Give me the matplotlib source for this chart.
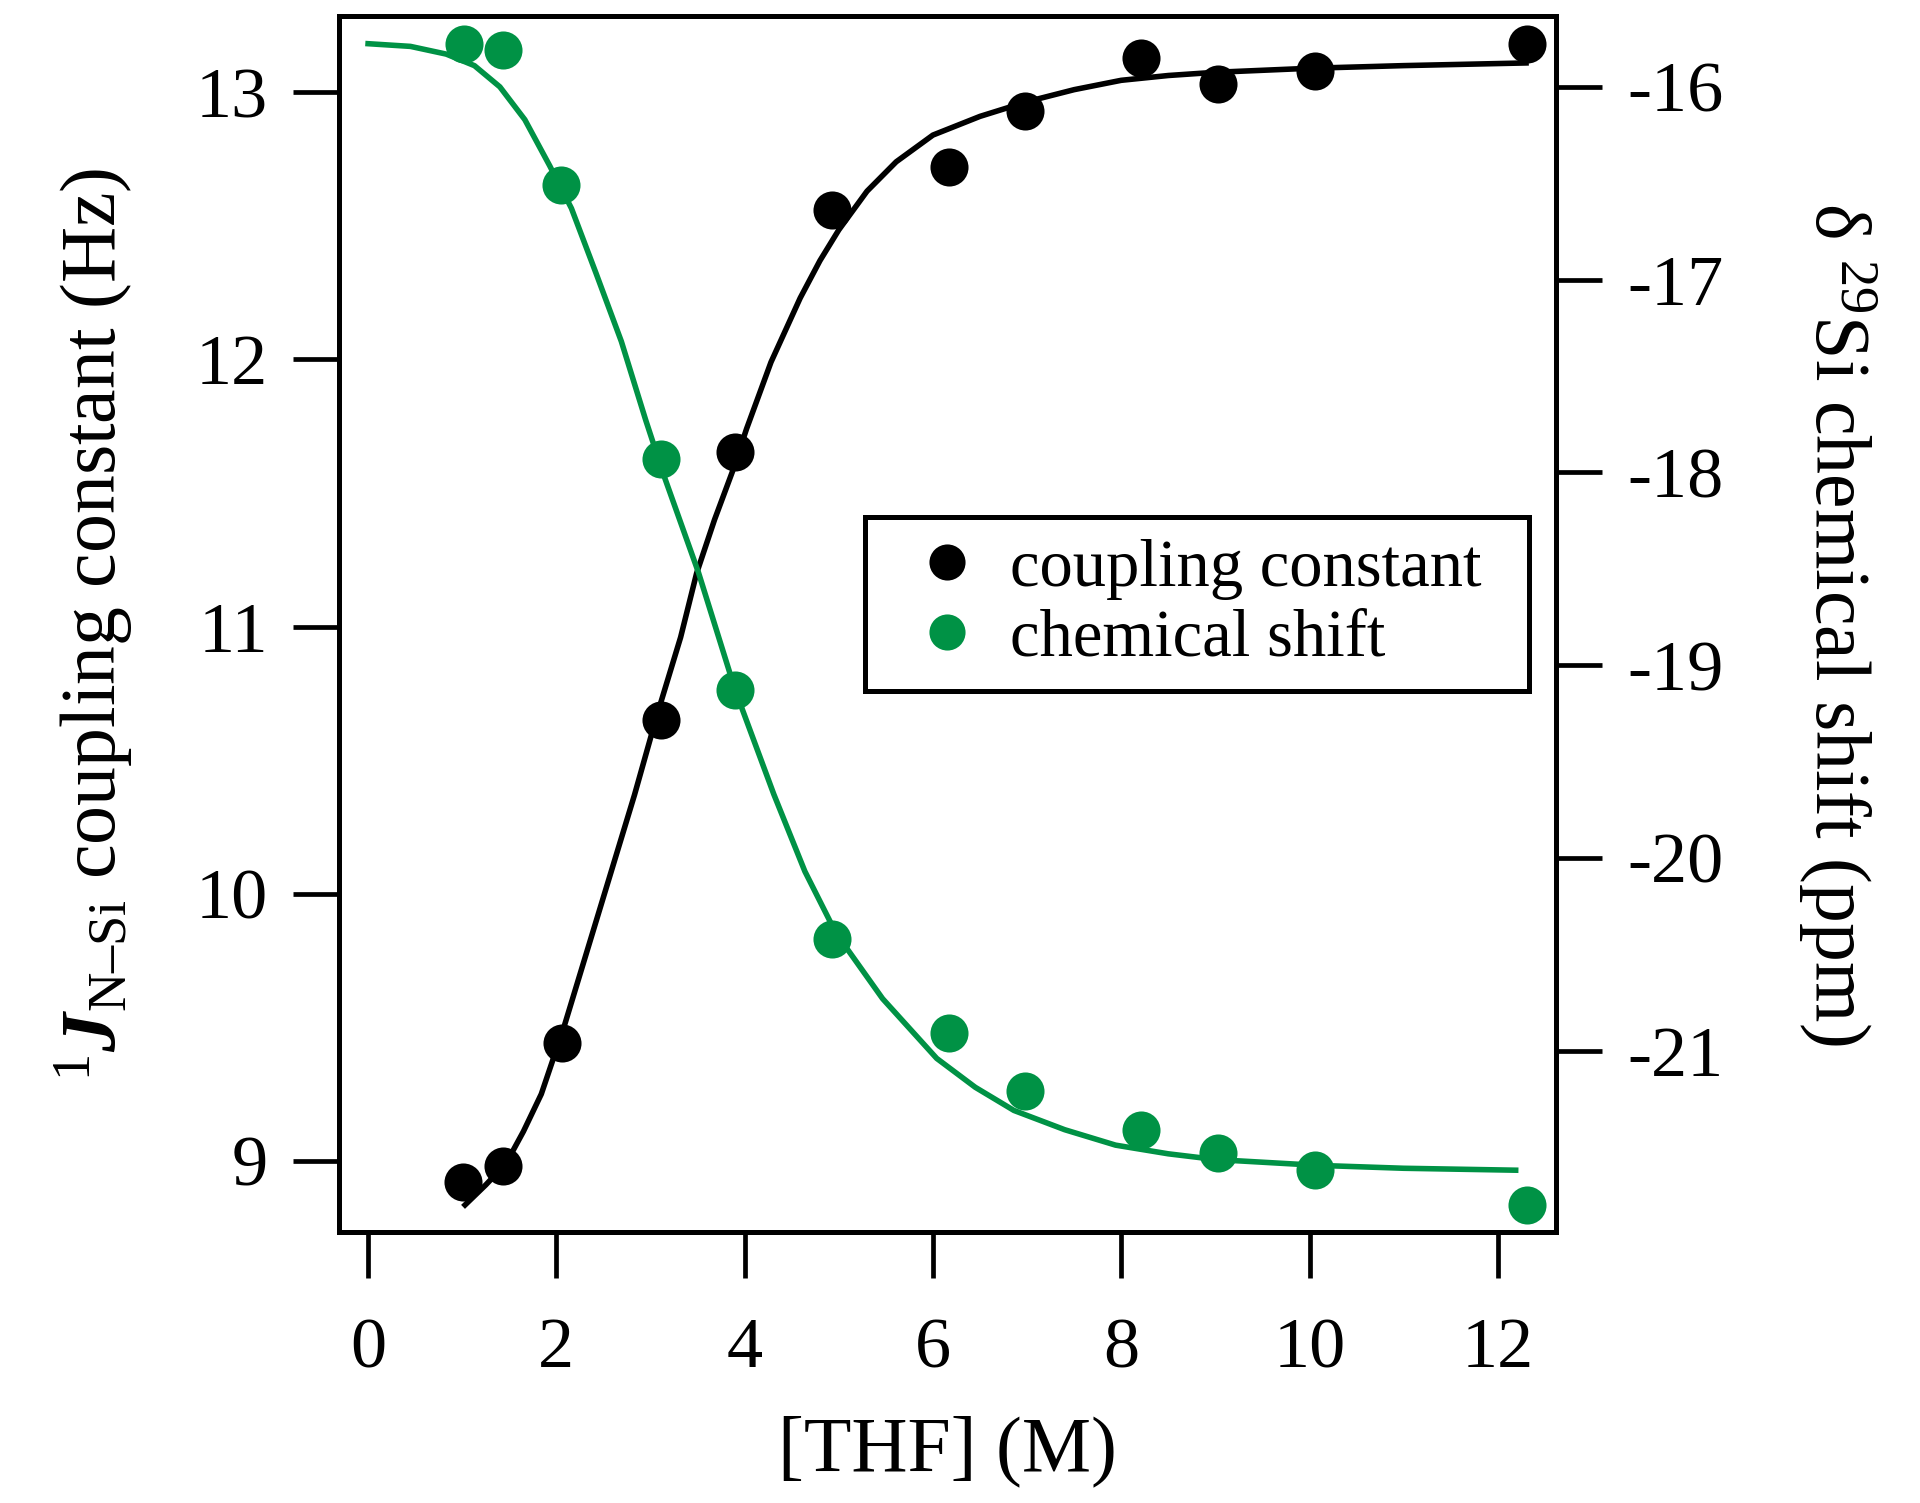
"""THF titration: 1J(N-Si) coupling constant and 29Si chemical shift vs [THF].

Twin y-axes, black = coupling constant (left), green = chemical shift (right),
with the fitted curves drawn as lines through the data.
"""
import matplotlib
matplotlib.use('Agg')
import matplotlib.pyplot as plt
from matplotlib.lines import Line2D

GREEN = '#009245'

# measured points
THF = [1.01, 1.43, 2.06, 3.11, 3.90, 4.93, 6.17, 6.98, 8.21, 9.03, 10.06, 12.31]
J_NSI = [8.92, 8.98, 9.44, 10.65, 11.655, 12.56, 12.72, 12.93, 13.13, 13.03, 13.08, 13.18]
SHIFT_THF = [1.02, 1.43, 2.05, 3.11, 3.90, 4.93, 6.17, 6.98, 8.21, 9.03, 10.06, 12.31]
SHIFT = [-15.78, -15.81, -16.51, -17.93, -19.13, -20.42, -20.91, -21.21,
         -21.41, -21.53, -21.62, -21.80]

# fitted curves
J_FIT_X = [1.03, 1.25, 1.465, 1.65, 1.84, 2.08, 2.33, 2.58, 2.83, 3.07, 3.32,
           3.49, 3.68, 3.87, 4.02, 4.28, 4.59, 4.8, 5.0, 5.3, 5.61, 6.0, 6.5,
           7.0, 7.5, 8.0, 8.5, 9.0, 10.0, 11.0, 12.3]
J_FIT_Y = [8.835, 8.91, 8.99, 9.11, 9.25, 9.50, 9.79, 10.08, 10.37, 10.67,
           10.96, 11.20, 11.40, 11.58, 11.74, 11.99, 12.23, 12.37, 12.485,
           12.63, 12.74, 12.84, 12.91, 12.965, 13.01, 13.045, 13.063, 13.075,
           13.09, 13.10, 13.11]
SHIFT_FIT_X = [0.0, 0.45, 0.83, 1.13, 1.40, 1.665, 1.93, 2.16, 2.42, 2.69,
               2.95, 3.145, 3.51, 3.90, 4.31, 4.64, 4.97, 5.465, 6.04, 6.45,
               6.86, 7.4, 7.94, 8.5, 9.01, 10.09, 11.0, 12.19]
SHIFT_FIT_Y = [-15.776, -15.79, -15.83, -15.89, -16.00, -16.17, -16.41, -16.63,
               -16.965, -17.32, -17.73, -18.02, -18.52, -19.13, -19.67, -20.07,
               -20.39, -20.73, -21.04, -21.19, -21.31, -21.41, -21.49, -21.535,
               -21.565, -21.595, -21.61, -21.62]

X_TICKS = [0, 2, 4, 6, 8, 10, 12]
J_TICKS = [9, 10, 11, 12, 13]
SHIFT_TICKS = [-21, -20, -19, -18, -17, -16]


def style_axis(ax):
    for side in ('left', 'right', 'top', 'bottom'):
        ax.spines[side].set_linewidth(1.8)
    ax.tick_params(direction='out', length=16.5, width=1.7, labelsize=26, pad=9)


def main():
    plt.rcParams['font.family'] = ['Liberation Serif', 'DejaVu Serif']
    plt.rcParams['mathtext.fontset'] = 'custom'
    plt.rcParams['mathtext.rm'] = 'Liberation Serif'
    plt.rcParams['mathtext.it'] = 'Liberation Serif:italic'
    plt.rcParams['mathtext.bf'] = 'Liberation Serif:bold'
    plt.rcParams['mathtext.bfit'] = 'Liberation Serif:italic:bold'
    plt.rcParams['axes.unicode_minus'] = False

    fig = plt.figure(figsize=(9.6, 7.515), dpi=200)
    ax = fig.add_axes([0.1766, 0.1800, 0.6339, 0.8094])
    ax2 = ax.twinx()

    ax.plot(J_FIT_X, J_FIT_Y, color='black', lw=2.0, zorder=2,
            solid_joinstyle='round')
    ax.plot(THF, J_NSI, 'o', color='black', ms=13.7, mew=0, zorder=3)
    ax2.plot(SHIFT_FIT_X, SHIFT_FIT_Y, color=GREEN, lw=2.0, zorder=2,
             solid_joinstyle='round')
    ax2.plot(SHIFT_THF, SHIFT, 'o', color=GREEN, ms=13.7, mew=0, zorder=3)

    ax.set_xlim(-0.308, 12.62)
    ax.set_ylim(8.732, 13.286)
    ax2.set_ylim(-21.943, -15.632)
    ax.set_xticks(X_TICKS)
    ax.set_yticks(J_TICKS)
    ax2.set_yticks(SHIFT_TICKS)
    style_axis(ax)
    style_axis(ax2)
    ax.tick_params(axis='x', pad=14)

    ax.set_xlabel('[THF] (M)', fontsize=28, labelpad=12)
    ax.set_ylabel(r'$^{1}\mathbfit{J}_{\mathrm{N–Si}}$ coupling constant (Hz)',
                  fontsize=28, labelpad=22)
    ax2.set_ylabel(r'δ $^{29}$Si chemical shift (ppm)', fontsize=28,
                   rotation=270, va='bottom', labelpad=26)

    handles = [
        Line2D([], [], ls='none', marker='o', color='black', ms=13.0, mew=0),
        Line2D([], [], ls='none', marker='o', color=GREEN, ms=13.0, mew=0),
    ]
    leg = ax2.legend(handles, ['coupling constant', 'chemical shift'],
                     loc='center left', bbox_to_anchor=(0.432, 0.444, 0.546, 0.145),
                     mode='expand', fontsize=24, frameon=True, fancybox=False,
                     borderpad=0.33, labelspacing=0.13, handlelength=1.8,
                     handletextpad=0.05, borderaxespad=0.0)
    frame = leg.get_frame()
    frame.set_edgecolor('black')
    frame.set_linewidth(1.8)
    frame.set_alpha(1.0)

    fig.savefig('out.png', dpi=200)
    plt.close(fig)


if __name__ == '__main__':
    main()
